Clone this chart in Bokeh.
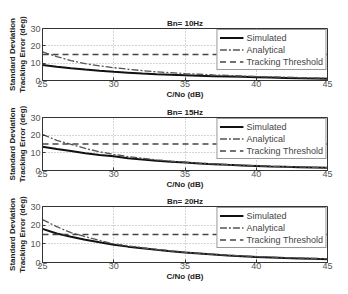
from bokeh.plotting import figure
from bokeh.layouts import column
from bokeh.models import Legend, LegendItem, Title, FixedTicker, Range1d
from bokeh.embed import file_html
from bokeh.resources import INLINE

# C/No (dB) sample points
cn0 = [25, 26, 27, 28, 29, 30, 31, 32, 33, 34, 35, 36, 37, 38, 39, 40, 41, 42, 43, 44, 45]

titles = ["Bn= 10Hz", "Bn= 15Hz", "Bn= 20Hz"]

sim_10 = [9.0, 8.0, 7.1, 6.3, 5.6, 5.0, 4.5, 4.0, 3.6, 3.3, 3.0, 2.7, 2.5, 2.3, 2.1, 1.9, 1.7, 1.5, 1.3, 1.2, 1.0]
ana_10 = [16.5, 13.8, 11.5, 9.7, 8.4, 7.4, 6.5, 5.7, 5.0, 4.5, 4.0, 3.6, 3.2, 2.9, 2.6, 2.3, 2.1, 1.9, 1.7, 1.5, 1.3]

sim_15 = [13.5, 12.2, 11.0, 9.8, 8.8, 8.0, 7.0, 6.2, 5.5, 5.0, 4.5, 4.0, 3.6, 3.2, 2.9, 2.6, 2.3, 2.1, 1.9, 1.7, 1.5]
ana_15 = [20.5, 17.0, 14.8, 12.5, 10.6, 9.1, 7.9, 6.9, 6.0, 5.3, 4.7, 4.2, 3.7, 3.3, 3.0, 2.7, 2.4, 2.2, 2.0, 1.8, 1.6]

sim_20 = [18.0, 15.5, 13.8, 12.2, 10.8, 9.5, 8.5, 7.6, 6.8, 6.0, 5.3, 4.8, 4.3, 3.8, 3.4, 3.0, 2.7, 2.4, 2.2, 2.0, 1.8]
ana_20 = [23.0, 19.2, 16.0, 13.8, 11.8, 10.0, 8.9, 7.9, 7.0, 6.2, 5.5, 4.9, 4.4, 3.9, 3.5, 3.2, 2.9, 2.6, 2.4, 2.2, 2.0]

threshold = [15] * len(cn0)

x_ticks = [25, 30, 35, 40, 45]
y_ticks = [0, 10, 20, 30]

sims = [sim_10, sim_15, sim_20]
anas = [ana_10, ana_15, ana_20]

# layout per panel: (figure height, top border, bottom border)
panels = [(103, 28, 23), (90, 14, 23), (101, 12, 32)]

figs = []
for i in range(3):
    h, top, bot = panels[i]
    p = figure(width=348, height=h, output_backend="svg", toolbar_location=None,
               x_range=Range1d(25, 45), y_range=Range1d(0, 30),
               min_border_left=42, min_border_right=21,
               min_border_top=top, min_border_bottom=bot)
    p.title = Title(text=titles[i], align="center", text_font="Liberation Sans",
                    text_font_size="8px", text_font_style="bold", text_color="#222222",
                    offset=0, standoff=2)
    p.outline_line_color = "#333333"
    p.outline_line_width = 1
    p.background_fill_color = "white"
    p.border_fill_color = "white"

    p.xaxis.ticker = FixedTicker(ticks=x_ticks)
    p.yaxis.ticker = FixedTicker(ticks=y_ticks)
    for ax in (p.xaxis[0], p.yaxis[0]):
        ax.major_tick_in = 3
        ax.major_tick_out = 0
        ax.minor_tick_in = 0
        ax.minor_tick_out = 0
        ax.axis_line_color = "#333333"
        ax.major_tick_line_color = "#333333"
        ax.major_label_text_font = "Liberation Sans"
        ax.major_label_text_font_size = "9px"
        ax.major_label_text_color = "#555555"
        ax.axis_label_text_font = "Liberation Sans"
        ax.axis_label_text_font_size = "8px"
        ax.axis_label_text_font_style = "bold"
        ax.axis_label_text_color = "#222222"
    p.xaxis.major_label_standoff = 0
    p.yaxis.major_label_standoff = 2
    p.xaxis.axis_label = "C/No (dB)"
    p.xaxis.axis_label_standoff = 0
    p.yaxis.axis_label = "Standard Deviation\nTracking Error (deg)"
    p.yaxis.axis_label_standoff = 0

    p.xgrid.ticker = FixedTicker(ticks=[30, 35, 40])
    p.ygrid.ticker = FixedTicker(ticks=[10, 20])
    p.xgrid.grid_line_color = "#aaaaaa"
    p.ygrid.grid_line_color = "#aaaaaa"
    p.xgrid.grid_line_dash = "1 2"
    p.ygrid.grid_line_dash = "1 2"

    r_sim = p.line(cn0, sims[i], line_color="#111111", line_width=2)
    r_ana = p.line(cn0, anas[i], line_color="#555555", line_width=1.3, line_dash="7 2 2 2")
    r_thr = p.line(cn0, threshold, line_color="#444444", line_width=1.3, line_dash="6 4")

    legend = Legend(items=[LegendItem(label="Simulated", renderers=[r_sim]),
                           LegendItem(label="Analytical", renderers=[r_ana]),
                           LegendItem(label="Tracking Threshold", renderers=[r_thr])],
                    location="top_right", label_text_font="Liberation Sans",
                    label_text_font_size="9px", label_text_color="#444444",
                    glyph_width=24, glyph_height=11, label_height=11,
                    spacing=1, padding=2, margin=1, label_standoff=3,
                    border_line_color="#333333", border_line_width=1,
                    background_fill_alpha=1.0)
    p.add_layout(legend)
    figs.append(p)

layout = column(*figs, spacing=0)
open("out.html", "w").write(file_html(layout, INLINE))
